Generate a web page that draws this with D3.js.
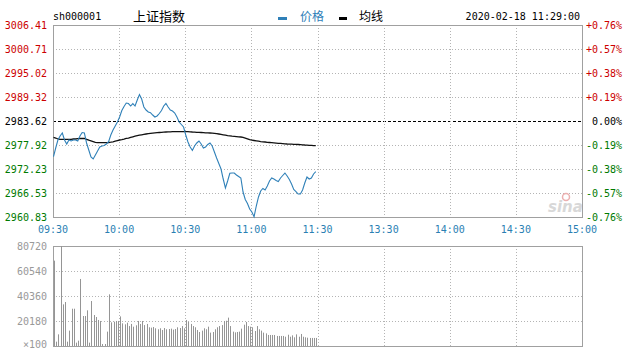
<!DOCTYPE html>
<html>
<head>
<meta charset="utf-8">
<script src="https://cdn.jsdelivr.net/npm/d3@7"></script>
<style>
  body { margin: 0; background: #fff; }
  svg { display: block; }
  text { font-family: "DejaVu Sans Mono", monospace; font-size: 10px; }
</style>
</head>
<body>
<script>
// DATA
var code = "sh000001",
  indexName = "上证指数",
  stamp = "2020-02-18 11:29:00",
  prevClose = 2983.62;

var priceTicks = [3006.41, 3000.71, 2995.02, 2989.32, 2983.62, 2977.92, 2972.23, 2966.53, 2960.83];
var pctTicks = ["+0.76%", "+0.57%", "+0.38%", "+0.19%", "0.00%", "-0.19%", "-0.38%", "-0.57%", "-0.76%"];
var timeTicks = [0, 30, 60, 90, 120, 150, 180, 210, 240];
var timeLabels = ["09:30", "10:00", "10:30", "11:00", "11:30", "13:30", "14:00", "14:30", "15:00"];
var volTicks = [80720, 60540, 40360, 20180];

// one value per minute from 09:30 to 11:29
var prices = [
  2975.14, 2977.21, 2979.11, 2980.06, 2980.77, 2979.11, 2978.16, 2979.11, 2978.87, 2979.11,
  2979.11, 2978.87, 2980.06, 2980.89, 2980.77, 2978.40, 2976.73, 2975.07, 2974.60, 2975.55,
  2976.50, 2977.45, 2977.68, 2977.80, 2978.16, 2978.71, 2980.30, 2981.48, 2982.43, 2983.38,
  2984.57, 2986.11, 2987.06, 2987.89, 2987.77, 2987.18, 2987.77, 2987.18, 2988.60, 2989.91,
  2988.84, 2986.94, 2986.23, 2985.76, 2985.59, 2985.04, 2984.57, 2984.81, 2985.40, 2986.11,
  2987.18, 2987.77, 2986.94, 2986.23, 2985.99, 2985.52, 2984.57, 2983.38, 2982.79, 2982.20,
  2980.30, 2978.63, 2977.45, 2976.62, 2977.68, 2978.40, 2978.87, 2978.16, 2977.21, 2977.45,
  2978.04, 2978.40, 2977.68, 2976.26, 2974.84, 2973.53, 2972.22, 2969.85, 2967.71, 2969.38,
  2971.20, 2971.27, 2971.27, 2970.80, 2970.44, 2970.09, 2966.76, 2964.98, 2964.03, 2962.73,
  2962.02, 2960.90, 2963.44, 2965.58, 2967.00, 2967.60, 2967.24, 2968.19, 2969.38, 2970.09,
  2969.85, 2969.49, 2969.26, 2970.09, 2970.68, 2971.27, 2970.56, 2969.73, 2968.66, 2967.36,
  2966.88, 2966.29, 2966.29, 2967.24, 2968.90, 2970.33, 2969.85, 2970.09, 2971.04, 2971.58
];

var avgPrices = [
  2979.75, 2979.58, 2979.35, 2979.28, 2979.28, 2979.28, 2979.28, 2979.28, 2979.28, 2979.35,
  2979.35, 2979.42, 2979.47, 2979.51, 2979.47, 2979.28, 2979.06, 2978.90, 2978.73, 2978.56,
  2978.47, 2978.47, 2978.47, 2978.47, 2978.47, 2978.52, 2978.59, 2978.68, 2978.82, 2978.97,
  2979.11, 2979.20, 2979.32, 2979.47, 2979.58, 2979.73, 2979.87, 2980.01, 2980.13, 2980.25,
  2980.34, 2980.44, 2980.53, 2980.60, 2980.68, 2980.75, 2980.79, 2980.84, 2980.89, 2980.94,
  2980.98, 2981.01, 2981.03, 2981.06, 2981.08, 2981.08, 2981.08, 2981.08, 2981.08, 2981.08,
  2981.08, 2981.08, 2981.06, 2981.01, 2980.98, 2980.94, 2980.91, 2980.89, 2980.87, 2980.82,
  2980.79, 2980.77, 2980.72, 2980.68, 2980.60, 2980.53, 2980.44, 2980.34, 2980.25, 2980.15,
  2980.08, 2980.01, 2979.96, 2979.92, 2979.87, 2979.82, 2979.75, 2979.58, 2979.39, 2979.20,
  2979.09, 2978.99, 2978.90, 2978.82, 2978.73, 2978.68, 2978.63, 2978.56, 2978.52, 2978.47,
  2978.42, 2978.37, 2978.33, 2978.30, 2978.25, 2978.21, 2978.16, 2978.14, 2978.11, 2978.09,
  2978.06, 2978.04, 2978.02, 2977.97, 2977.92, 2977.90, 2977.85, 2977.83, 2977.78, 2977.76
];

// volume in lots of 100
var volumes = [
  68900, 3500, 9400, 80720, 33600, 35500, 3500, 12400, 30100, 30100,
  2700, 4300, 54100, 24200, 24200, 28800, 2700, 36300, 25000, 23400,
  21000, 20200, 1600, 1600, 11600, 41700, 19100, 19600, 20200, 20200,
  23900, 18300, 17500, 18800, 16100, 17800, 15600, 16700, 20200, 17800,
  20200, 16900, 17800, 15100, 14800, 15300, 14300, 13500, 14300, 12900,
  14500, 13500, 13700, 14000, 13200, 13700, 15100, 14500, 16100, 14300,
  21000, 19400, 17800, 16100, 15100, 12900, 11300, 12400, 14300, 13500,
  15600, 10800, 11300, 13500, 15100, 16100, 16900, 20200, 20400, 22900,
  16100, 11600, 11000, 11300, 11600, 14000, 17200, 19400, 16100, 15600,
  15100, 12100, 16100, 13500, 12400, 10800, 10200, 8900, 8900, 8900,
  8900, 8100, 8100, 8100, 8100, 7500, 9100, 7500, 8600, 7000,
  9400, 7500, 9700, 7500, 7000, 6700, 6500, 6500, 6500, 6500
];

// LAYOUT
var W = 623, H = 349,
  left = 53, right = 582,
  pTop = 25, pBottom = 217,
  vTop = 246, vBottom = 346;

var red = "#cc0000", green = "#007a00", blue = "#2f80b8", gridC = "#b4b4b4", frameC = "#a0a0a0";

var svg = d3.select("body").append("svg")
  .attr("width", W)
  .attr("height", H);

var x = d3.scaleLinear().domain([0, 240]).range([left, right]);
var y = d3.scaleLinear().domain([priceTicks[8], priceTicks[0]]).range([pBottom, pTop]);
var yv = d3.scaleLinear().domain([0, volTicks[0]]).range([vBottom, vTop]);

function tone(i) {
  return i < 4 ? red : (i == 4 ? "#000" : green);
}

// header
svg.append("text").attr("x", left).attr("y", 20).text(code);
svg.append("text").attr("x", 133).attr("y", 21)
  .style("font-family", "'Noto Sans CJK SC', sans-serif").style("font-size", "13px")
  .text(indexName);
svg.append("line").attr("x1", 278).attr("x2", 287).attr("y1", 18.5).attr("y2", 18.5)
  .attr("stroke", blue).attr("stroke-width", 3);
svg.append("text").attr("x", 300).attr("y", 21).attr("fill", blue)
  .style("font-family", "'Noto Sans CJK SC', sans-serif").style("font-size", "12px")
  .text("价格");
svg.append("line").attr("x1", 339).attr("x2", 347).attr("y1", 18.5).attr("y2", 18.5)
  .attr("stroke", "#000").attr("stroke-width", 3);
svg.append("text").attr("x", 359).attr("y", 21)
  .style("font-family", "'Noto Sans CJK SC', sans-serif").style("font-size", "12px")
  .text("均线");
svg.append("text").attr("x", 580).attr("y", 20).attr("text-anchor", "end").text(stamp);

// grid of the price panel
var grid = svg.append("g");
grid.selectAll("line.h")
  .data(priceTicks.slice(1, 8))
  .enter().append("line")
  .attr("x1", left).attr("x2", right)
  .attr("y1", function (d) { return Math.round(y(d)) + 0.5; })
  .attr("y2", function (d) { return Math.round(y(d)) + 0.5; })
  .attr("stroke", function (d) { return d == prevClose ? "#000" : gridC; })
  .attr("stroke-dasharray", function (d) { return d == prevClose ? "3,2" : "1,2"; });

[[pTop, pBottom], [vTop, vBottom]].forEach(function (r) {
  grid.selectAll(null)
    .data(timeTicks.slice(1, 8))
    .enter().append("line")
    .attr("x1", function (d) { return Math.round(x(d)) + 0.5; })
    .attr("x2", function (d) { return Math.round(x(d)) + 0.5; })
    .attr("y1", r[0]).attr("y2", r[1])
    .attr("stroke", gridC)
    .attr("stroke-dasharray", "1,2");
});

grid.selectAll(null)
  .data(volTicks.slice(1))
  .enter().append("line")
  .attr("x1", left).attr("x2", right)
  .attr("y1", function (d) { return Math.round(yv(d)) + 0.5; })
  .attr("y2", function (d) { return Math.round(yv(d)) + 0.5; })
  .attr("stroke", gridC)
  .attr("stroke-dasharray", "1,2");

// sina watermark
svg.append("text").attr("x", 548).attr("y", 212)
  .style("font-family", "'DejaVu Sans', sans-serif").style("font-size", "15px")
  .style("font-style", "italic").style("font-weight", "bold")
  .attr("fill", "#d8d8d8").text("sina");
svg.append("circle").attr("cx", 566).attr("cy", 197).attr("r", 3.5)
  .attr("fill", "none").attr("stroke", "#ecb0b0").attr("stroke-width", 1.5);

// frames
svg.append("rect").attr("x", left + 0.5).attr("y", pTop + 0.5)
  .attr("width", right - left).attr("height", pBottom - pTop)
  .attr("fill", "none").attr("stroke", frameC);
svg.append("rect").attr("x", left + 0.5).attr("y", vTop + 0.5)
  .attr("width", right - left).attr("height", vBottom - vTop)
  .attr("fill", "none").attr("stroke", frameC);

// axis labels
svg.append("g").selectAll("text")
  .data(priceTicks)
  .enter().append("text")
  .attr("x", 47)
  .attr("y", function (d) { return y(d) + 4; })
  .attr("text-anchor", "end")
  .attr("fill", function (d, i) { return tone(i); })
  .text(function (d) { return d.toFixed(2); });

svg.append("g").selectAll("text")
  .data(pctTicks)
  .enter().append("text")
  .attr("x", 622)
  .attr("y", function (d, i) { return y(priceTicks[i]) + 4; })
  .attr("text-anchor", "end")
  .attr("fill", function (d, i) { return tone(i); })
  .text(function (d) { return d; });

svg.append("g").selectAll("text")
  .data(timeLabels)
  .enter().append("text")
  .attr("x", function (d, i) { return x(timeTicks[i]); })
  .attr("y", 233)
  .attr("text-anchor", "middle")
  .attr("fill", "#2a7fb3")
  .text(function (d) { return d; });

svg.append("g").selectAll("text")
  .data(volTicks)
  .enter().append("text")
  .attr("x", 47)
  .attr("y", function (d) { return yv(d) + 4; })
  .attr("text-anchor", "end")
  .attr("fill", "#999")
  .text(function (d) { return d; });
svg.append("text").attr("x", 47).attr("y", 347.5)
  .attr("text-anchor", "end").attr("fill", "#999").text("×100");

// volume bars
svg.append("g").selectAll("line")
  .data(volumes)
  .enter().append("line")
  .attr("x1", function (d, i) { return Math.round(x(i)) + 1.5; })
  .attr("x2", function (d, i) { return Math.round(x(i)) + 1.5; })
  .attr("y1", vBottom)
  .attr("y2", function (d) { return yv(d); })
  .attr("stroke", "#959595");

// price and average lines
var line = d3.line()
  .x(function (d, i) { return x(i) + 0.5; })
  .y(function (d) { return y(d); });

svg.append("path").datum(avgPrices)
  .attr("d", line)
  .attr("fill", "none").attr("stroke", "#111").attr("stroke-width", 1.3);

svg.append("path").datum(prices)
  .attr("d", line)
  .attr("fill", "none").attr("stroke", blue).attr("stroke-width", 1.1);
</script>
</body>
</html>
